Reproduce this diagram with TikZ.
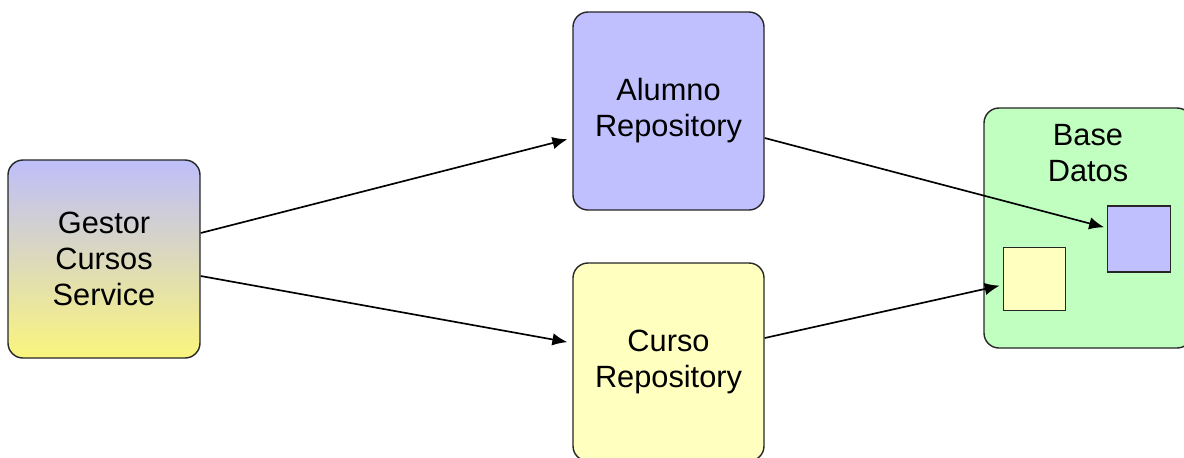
\documentclass[tikz,border=0pt]{standalone}
\usepackage{fontspec}
\setmainfont{Liberation Sans}
\usetikzlibrary{arrows.meta,positioning}

\definecolor{lav}{RGB}{192,192,255}
\definecolor{lemon}{RGB}{255,255,192}
\definecolor{mint}{RGB}{192,255,192}
\definecolor{gradtop}{RGB}{190,190,250}
\definecolor{gradbot}{RGB}{250,245,125}

\begin{document}
\begin{tikzpicture}[
repobox/.style={draw=black!85, rounded corners=0.3cm, align=center, minimum width=3.82cm, minimum height=3.96cm, line width=0.8pt, font=\fontsize{17.5}{20.5}\selectfont},
tablebox/.style={draw=black!85, minimum width=1.25cm, minimum height=1.26cm, line width=0.8pt},
arrow/.style={-{Latex[length=3mm, width=2.5mm]}, line width=0.95pt}
]
\useasboundingbox (0,0) rectangle (23.68,-9.14);
\clip (0,0) rectangle (23.68,-9.14);
\node[repobox, minimum width=3.84cm, top color=gradtop, bottom color=gradbot] (gestor) at (2.08,-5.18) {Gestor\\Cursos\\Service};
\node[repobox, fill=lav] (alumno) at (13.37,-2.22) {Alumno\\Repository};
\node[repobox, fill=lemon] (curso) at (13.37,-7.24) {Curso\\Repository};
\node[repobox, fill=mint, minimum width=4.16cm, minimum height=4.8cm] (base) at (21.76,-4.56) {};
\node[align=center, font=\fontsize{17.5}{20.5}\selectfont] (basetxt) at (21.76,-3.06) {Base\\Datos};
\node[tablebox, fill=lemon] (tcurso) at (20.69,-5.58) {};
\node[tablebox, fill=lav, minimum height=1.32cm] (talumno) at (22.78,-4.78) {};
\draw[arrow, shorten >=0.1cm] ([yshift=0.52cm]gestor.east) -- ([yshift=-0.54cm]alumno.west);
\draw[arrow, shorten >=0.1cm] ([yshift=-0.34cm]gestor.east) -- ([yshift=0.38cm]curso.west);
\draw[arrow, shorten >=0.06cm] ([yshift=-0.54cm]alumno.east) -- ([yshift=0.22cm]talumno.west);
\draw[arrow, shorten >=0.06cm] ([yshift=0.48cm]curso.east) -- ([yshift=-0.12cm]tcurso.west);
\end{tikzpicture}
\end{document}
